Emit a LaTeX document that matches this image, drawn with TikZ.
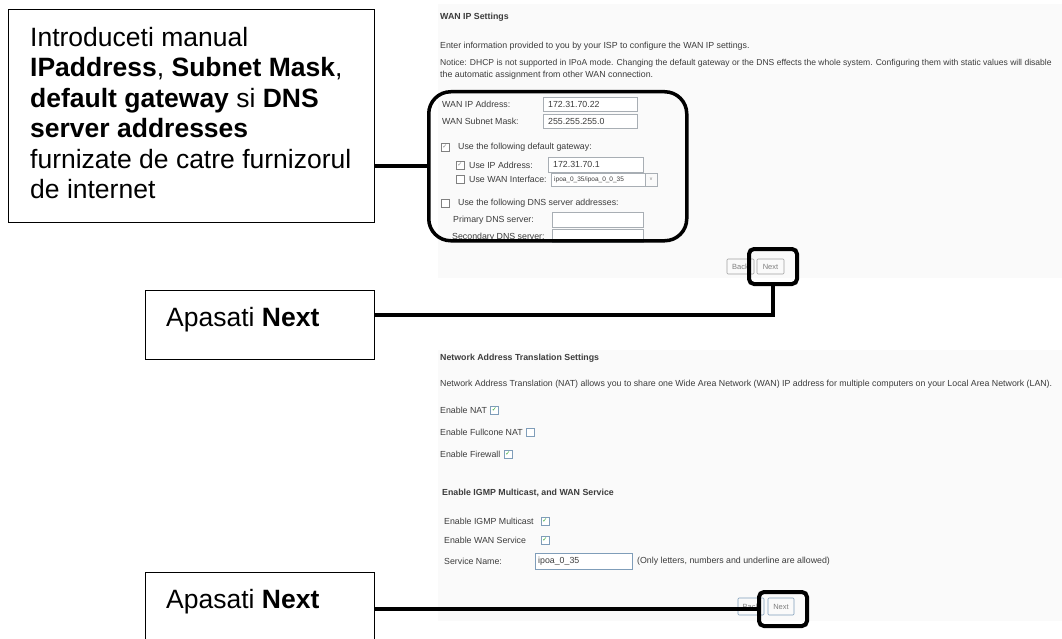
\documentclass[tikz,border=0pt]{standalone}
\usepackage{fontspec}
\setmainfont{Liberation Sans}
\newfontfamily\dejavu{DejaVu Sans}
\usetikzlibrary{calc}
\definecolor{scrbg}{HTML}{FAFAFA}
\definecolor{scrtxt}{HTML}{3C3C3C}
\definecolor{fieldline}{HTML}{A8AEB4}
\definecolor{cbblue}{HTML}{7F9DB9}
\definecolor{cbgreen}{HTML}{22A022}
\definecolor{btnline}{HTML}{A0A0A0}
\begin{document}
\begin{tikzpicture}[x=1pt,y=-1pt,
  callout/.style={draw=black, line width=1.3pt, fill=white, inner sep=0pt, anchor=north west},
  bigtxt/.style={anchor=base west, inner sep=0pt, align=left, font=\fontsize{26.5}{30.5}\selectfont},
  wire/.style={line width=4pt},
  hilite/.style={draw=black, line width=4pt, rounded corners=5pt},
  st/.style={anchor=west, inner sep=0pt, text=scrtxt, font=\fontsize{8.8}{10}\selectfont},
  stb/.style={st, font=\fontsize{8.8}{10}\selectfont\bfseries},
  field/.style={draw=fieldline, line width=0.6pt, fill=white},
  btn/.style={draw=btnline, line width=0.6pt, fill=scrbg, rounded corners=1pt},
  btntxt/.style={inner sep=0pt, text=gray, font=\fontsize{7.5}{8}\selectfont},
  cbgray/.style={draw=gray, line width=0.5pt, fill=white, minimum size=8pt, inner sep=0pt, text=gray, font=\dejavu\fontsize{6}{6}\selectfont},
  cbgreen/.style={draw=cbblue, line width=0.5pt, fill=white, minimum size=8pt, inner sep=0pt, text=cbgreen, font=\dejavu\fontsize{6}{6}\selectfont},
]
\clip (0,0) rectangle (1062,639);
\fill[white] (0,0) rectangle (1062,639);

% ---------- top screenshot ----------
\fill[scrbg] (438,4) rectangle (1062,278);
\node[stb] (t1) at (440,17) {WAN IP Settings};
\node[st] (t2) at (440,46) {Enter information provided to you by your ISP to configure the WAN IP settings.};
\node[st, font=\fontsize{8.55}{10}\selectfont] (t3) at (440,63) {Notice: DHCP is not supported in IPoA mode. Changing the default gateway or the DNS effects the whole system. Configuring them with static values will disable};
\node[st] (t4) at (440,75) {the automatic assignment from other WAN connection.};

\node[st] (l1) at (442,104) {WAN IP Address:};
\draw[field] (543,97) rectangle (637,111);
\node[st] (v1) at (548,104) {172.31.70.22};
\node[st] (l2) at (442,121) {WAN Subnet Mask:};
\draw[field] (543,114) rectangle (637,128);
\node[st] (v2) at (548,121) {255.255.255.0};

\node[cbgray] (c1) at (445,147) {✓};
\node[st] (l3) at (458,147) {Use the following default gateway:};
\node[cbgray] (c2) at (460,165) {✓};
\node[st] (l4) at (469,165) {Use IP Address:};
\draw[field] (548,157) rectangle (643,172);
\node[st] (v3) at (553,164.5) {172.31.70.1};
\node[cbgray] (c3) at (460,179) {};
\node[st] (l5) at (469,179) {Use WAN Interface:};
\draw[field] (551,173) rectangle (645,186);
\draw[field, fill=scrbg] (645,173) rectangle (657,186);
\node[btntxt, font=\fontsize{5}{5}\selectfont] at (651,179.5) {v};
\node[st, font=\fontsize{6.5}{7}\selectfont] (v4) at (554,179.5) {ipoa\_0\_35/ipoa\_0\_0\_35};

\node[cbgray] (c4) at (445,203) {};
\node[st] (l6) at (458,203) {Use the following DNS server addresses:};
\node[st] (l7) at (453,220) {Primary DNS server:};
\draw[field] (552,212) rectangle (643,227);
\node[st] (l8) at (452,237) {Secondary DNS server:};
\draw[field] (552,229) rectangle (643,242);

\draw[btn] (727,259) rectangle (754,274);
\node[btntxt] at (740.5,266.5) {Back};
\draw[btn] (757,259) rectangle (784,274);
\node[btntxt] at (770.5,266.5) {Next};

% ---------- bottom screenshot ----------
\fill[scrbg] (438,350) rectangle (1062,621);
\node[stb] (n0) at (440,358) {Network Address Translation Settings};
\node[st] (n1) at (440,384) {Network Address Translation (NAT) allows you to share one Wide Area Network (WAN) IP address for multiple computers on your Local Area Network (LAN).};
\node[st] (n2) at (440,410) {Enable NAT};
\node[cbgreen, anchor=west] at ($(n2.east)+(3,0)$) {✓};
\node[st] (n3) at (440,432) {Enable Fullcone NAT};
\node[cbgreen, anchor=west] at ($(n3.east)+(3,0)$) {};
\node[st] (n4) at (440,454) {Enable Firewall};
\node[cbgreen, anchor=west] at ($(n4.east)+(3,0)$) {✓};

\node[stb] (m0) at (442,493) {Enable IGMP Multicast, and WAN Service};
\node[st] (m1) at (444,521) {Enable IGMP Multicast};
\node[cbgreen] at (545,521) {✓};
\node[st] (m2) at (444,540) {Enable WAN Service};
\node[cbgreen] at (545,540) {✓};
\node[st] (m3) at (444,561) {Service Name:};
\draw[field, draw=cbblue] (535,553) rectangle (632,569);
\node[st] (m4) at (538,561) {ipoa\_0\_35};
\node[st] (m5) at (637,561) {(Only letters, numbers and underline are allowed)};

\draw[btn, draw=cbblue] (738,598) rectangle (764,615);
\node[btntxt] at (751,606.5) {Back};
\draw[btn, draw=cbblue] (768,598) rectangle (794,615);
\node[btntxt] at (781,606.5) {Next};

% ---------- callouts ----------
\node[callout, minimum width=366pt, minimum height=213pt] (b1) at (8,9) {};
\node[bigtxt] (b1t) at (30,199) {Introduceti manual\\
\textbf{IPaddress}, \textbf{Subnet Mask},\\
\textbf{default gateway} si \textbf{DNS}\\
\textbf{server addresses}\\
furnizate de catre furnizorul\\
de internet};

\node[callout, minimum width=229pt, minimum height=69pt] (b2) at (145,290) {};
\node[bigtxt] (b2t) at (166,326) {Apasati \textbf{Next}};

\node[callout, minimum width=229pt, minimum height=100pt] (b3) at (145,572) {};
\node[bigtxt] (b3t) at (166,608) {Apasati \textbf{Next}};

% highlight frames
\node[draw=black, line width=3.5pt, rounded corners=22pt, minimum width=258pt, minimum height=149pt, inner sep=0pt, anchor=north west] (r1) at (427,90) {};
\node[hilite, minimum width=48pt, minimum height=35pt, inner sep=0pt, anchor=north west] (h2) at (747,247) {};
\node[hilite, minimum width=48pt, minimum height=34pt, inner sep=0pt, anchor=north west] (h3) at (757,590) {};

% connectors
\draw[wire] (r1.west -| b1.east) -- (r1.west);
\draw[wire] ($(b2.north east)!0.35!(b2.south east)$) -| (h2.south);
\draw[wire] (h3.west -| b3.east) -- (h3.west);
\end{tikzpicture}
\end{document}
